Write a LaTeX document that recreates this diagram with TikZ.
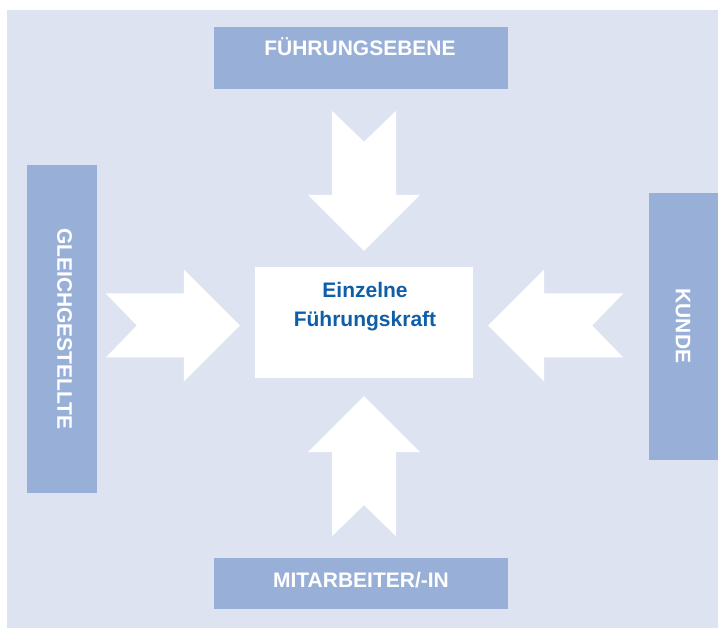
\documentclass[tikz,border=0pt]{standalone}
\usepackage{fontspec}
\setmainfont{Liberation Sans}
\usetikzlibrary{calc,positioning}
\definecolor{bgblue}{RGB}{222,227,241}
\definecolor{boxblue}{RGB}{152,176,216}
\definecolor{textblue}{RGB}{16,94,168}
\tikzstyle{side}=[fill=boxblue,inner sep=0,outer sep=0]
\tikzstyle{label}=[inner sep=0,outer sep=0,text=white,font=\fontsize{21}{29}\selectfont\bfseries]
\newcommand{\drawarrows}[2][\empty]{
	\foreach \tip/\ang/\len in {#2}{
		\fill[#1,shift={(\tip)},rotate=\ang] (0,0) -- (-56,56) -- (-56,32) -- (-\len,32) -- (-\len+31,0) -- (-\len,-32) -- (-56,-32) -- (-56,-56) -- cycle;
	}
}

\begin{document}
\begin{tikzpicture}[x=1pt,y=1pt]
\useasboundingbox (0,0) rectangle (718,628);
\fill[bgblue] (7,0) rectangle (718,618);

\node[side,minimum width=294,minimum height=62] (ebene) at (361,570) {};
\node[side,minimum width=294,minimum height=51] (mitarb) at (361,44.5) {};
\node[side,minimum width=70,minimum height=328] (gleich) at (62,299) {};
\node[side,minimum width=69,minimum height=267] (kunde) at (683.5,301.5) {};
\node[fill=white,minimum width=218,minimum height=111,inner sep=0] (kraft) at (364,305.5) {};

\node[label,anchor=base] (ebenetxt) at (360,572) {FÜHRUNGSEBENE};
\node[label,anchor=base] (mitarbtxt) at (361,40) {MITARBEITER/-IN};
\node[label,rotate=-90] (gleichtxt) at (64.5,299) {GLEICHGESTELLTE};
\node[label,rotate=-90] (kundetxt) at (683,302) {KUNDE};
\node[label,text=textblue,align=center] (krafttxt) at (365,321.5) {Einzelne\\Führungskraft};

\coordinate (tipn) at ($(kraft.north)+(0,16)$);
\coordinate (tips) at ($(kraft.south)+(0,-18)$);
\coordinate (tipw) at ($(kraft.west)+(-15,-3)$);
\coordinate (tipe) at ($(kraft.east)+(15,-3)$);

\drawarrows[white]{tipn/-90/140,tips/90/140,tipw/0/134,tipe/180/135}
\end{tikzpicture}
\end{document}
